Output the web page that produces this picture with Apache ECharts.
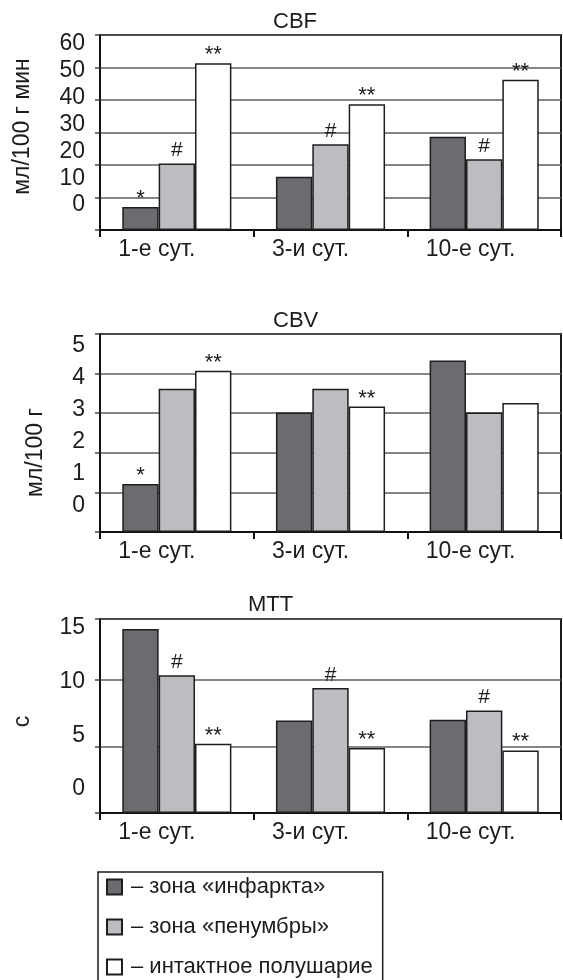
<!DOCTYPE html>
<html>
<head>
<meta charset="utf-8">
<script src="https://cdn.jsdelivr.net/npm/echarts@6/dist/echarts.min.js"></script>
<style>html,body{margin:0;padding:0;background:#fff;}#c{width:563px;height:980px;}</style>
</head>
<body>
<div id="c"></div>
<script>
// ---- data ----
var categories = ['1-е сут.', '3-и сут.', '10-е сут.'];
var seriesNames = ['зона «инфаркта»', 'зона «пенумбры»', 'интактное полушарие'];

var cbfInfarct = [7.1, 16.4, 28.7];
var cbfPenumbra = [20.5, 26.4, 21.8];
var cbfIntact = [51.3, 38.7, 46.2];
var cbfMarksInfarct = ['*', '', ''];
var cbfMarksPenumbra = ['#', '#', '#'];
var cbfMarksIntact = ['**', '**', '**'];
var cbfTicks = [0, 10, 20, 30, 40, 50, 60];

var cbvInfarct = [1.21, 3.02, 4.33];
var cbvPenumbra = [3.62, 3.62, 3.02];
var cbvIntact = [4.07, 3.17, 3.26];
var cbvMarksInfarct = ['*', '', ''];
var cbvMarksPenumbra = ['', '', ''];
var cbvMarksIntact = ['**', '**', ''];
var cbvTicks = [0, 1, 2, 3, 4, 5];

var mttInfarct = [13.85, 6.97, 7.02];
var mttPenumbra = [10.36, 9.41, 7.72];
var mttIntact = [5.22, 4.89, 4.71];
var mttMarksInfarct = ['', '', ''];
var mttMarksPenumbra = ['#', '#', '#'];
var mttMarksIntact = ['**', '**', '**'];
var mttTicks = [0, 5, 10, 15];

var titles = ['CBF', 'CBV', 'MTT'];
var axisNames = ['мл/100 г мин', 'мл/100 г', 'с'];

// ---- build ----
var FONT = '"Liberation Sans", Arial, Helvetica, sans-serif';
var TXT = '#1c1c1c';
var fills = ['#6b6c70', '#bcbdc1', '#ffffff'];
// mark label styles: index 0,2 -> asterisks, 1 -> hash
var markStyle = [
  {fontSize: 22, lineHeight: 8, distance: 4},
  {fontSize: 21, lineHeight: 20, distance: 3},
  {fontSize: 22, lineHeight: 8, distance: 4}
];

var panels = [
  {vals: [cbfInfarct, cbfPenumbra, cbfIntact], marks: [cbfMarksInfarct, cbfMarksPenumbra, cbfMarksIntact], ticks: cbfTicks,
   gridTop: 35, gridH: 195, axMax: 60, axInt: 10, labTop: 44, labH: 161, titleLeft: 273, titleTop: 11,
   nameGap: 66, namePad: [0, 0, 0, 12]},
  {vals: [cbvInfarct, cbvPenumbra, cbvIntact], marks: [cbvMarksInfarct, cbvMarksPenumbra, cbvMarksIntact], ticks: cbvTicks,
   gridTop: 334, gridH: 198, axMax: 5, axInt: 1, labTop: 346, labH: 160, titleLeft: 273, titleTop: 310,
   nameGap: 53, namePad: [0, 39, 0, 0]},
  {vals: [mttInfarct, mttPenumbra, mttIntact], marks: [mttMarksInfarct, mttMarksPenumbra, mttMarksIntact], ticks: mttTicks,
   gridTop: 619, gridH: 194, axMax: 14.6, axInt: 5, labTop: 627.5, labH: 161.5, titleLeft: 248, titleTop: 594,
   nameGap: 66, namePad: [0, 11, 0, 0]}
];

var grid = [], xAxis = [], yAxis = [], series = [], title = [];
panels.forEach(function (p, i) {
  grid.push({left: 100, right: 2, top: p.gridTop, height: p.gridH, show: true, borderColor: '#1a1a1a', borderWidth: 2, backgroundColor: 'transparent'});
  title.push({text: titles[i], left: p.titleLeft, top: p.titleTop, padding: 0,
    textStyle: {fontFamily: FONT, fontSize: 22, fontWeight: 'normal', color: TXT}});
  xAxis.push({type: 'category', gridIndex: i, data: categories,
    axisLine: {lineStyle: {color: '#111', width: 2}},
    axisTick: {show: true, interval: 0, length: 7, lineStyle: {color: '#111', width: 2}},
    axisLabel: {interval: 0, hideOverlap: false, margin: 8, color: TXT, fontFamily: FONT, fontSize: 23,
      formatter: function (v) { return '{a|' + v + '}'; },
      rich: {a: {width: 117, align: 'left', fontFamily: FONT, fontSize: 23, color: TXT}}},
    splitLine: {show: false}});
  yAxis.push({type: 'value', gridIndex: i, min: 0, max: p.axMax, interval: p.axInt,
    name: axisNames[i], nameLocation: 'middle', nameRotate: 90, nameGap: p.nameGap,
    nameTextStyle: {fontFamily: FONT, fontSize: 23, color: TXT, padding: p.namePad},
    axisLine: {show: true, lineStyle: {color: '#111', width: 2}},
    axisTick: {show: true, inside: false, length: 5, lineStyle: {color: '#444', width: 1.5}},
    axisLabel: {show: false},
    splitLine: {show: true, lineStyle: {color: '#5e5e5e', width: 1.5}}});
  for (var s = 0; s < 3; s++) {
    (function (s) {
      var marks = p.marks[s];
      var ms = markStyle[s];
      series.push({type: 'bar', name: seriesNames[s], xAxisIndex: i, yAxisIndex: i,
        data: p.vals[s], barGap: '0%', barCategoryGap: '29%',
        itemStyle: {color: fills[s], borderColor: '#1e1e1e', borderWidth: 1.5},
        emphasis: {disabled: true},
        label: {show: true, position: 'top', distance: ms.distance,
          fontFamily: FONT, fontSize: ms.fontSize, lineHeight: ms.lineHeight, color: TXT,
          formatter: function (prm) { return marks[prm.dataIndex] || ''; }}});
    })(s);
  }
});
// label-only axes (tick labels as printed in the reference)
panels.forEach(function (p, i) {
  grid.push({left: 100, right: 2, top: p.labTop, height: p.labH, show: false});
  xAxis.push({type: 'value', gridIndex: 3 + i, min: 0, max: 1, show: false});
  var last = p.ticks[p.ticks.length - 1];
  yAxis.push({type: 'value', gridIndex: 3 + i, min: p.ticks[0], max: last, interval: p.ticks[1] - p.ticks[0],
    axisLine: {show: false}, axisTick: {show: false}, splitLine: {show: false},
    axisLabel: {show: true, margin: 15, color: TXT, fontFamily: FONT, fontSize: 23}});
});

var chart = echarts.init(document.getElementById('c'), null, {renderer: 'canvas'});
chart.setOption({
  animation: false,
  backgroundColor: '#fff',
  title: title,
  grid: grid,
  xAxis: xAxis,
  yAxis: yAxis,
  series: series,
  tooltip: {show: false},
  legend: {data: seriesNames, orient: 'vertical', left: 98, top: 872, height: 200,
    padding: [4, 10, 30, 8], borderColor: '#1a1a1a', borderWidth: 1.5,
    itemGap: 18, itemWidth: 15, itemHeight: 15, icon: 'rect', selectedMode: false,
    formatter: function (n) { return '– ' + n; },
    textStyle: {fontFamily: FONT, fontSize: 22, color: TXT, padding: [0, 0, 0, 4]}}
});
</script>
</body>
</html>
